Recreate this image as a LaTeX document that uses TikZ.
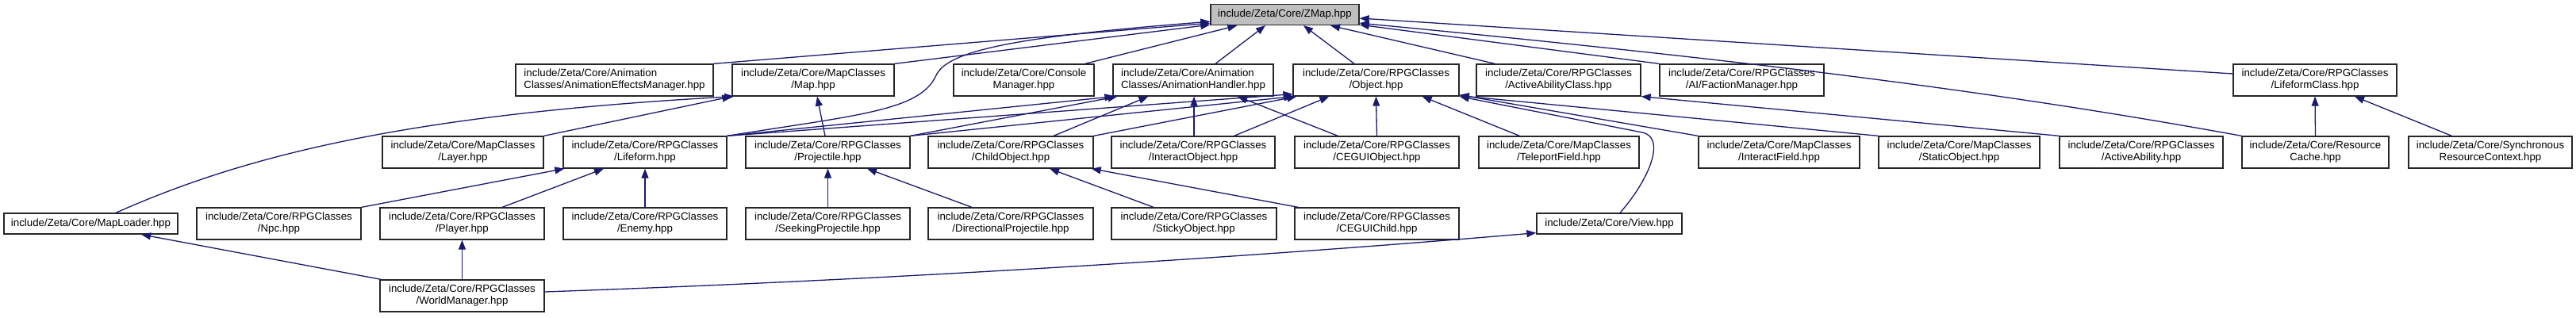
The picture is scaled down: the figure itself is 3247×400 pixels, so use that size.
\documentclass[tikz,border=0pt]{standalone}
\usepackage{fontspec}
\setmainfont{Liberation Sans}
\usetikzlibrary{arrows.meta,calc}
\definecolor{edgeblue}{RGB}{25,25,112}
\definecolor{rootgray}{RGB}{191,191,191}
\begin{document}
\begin{tikzpicture}[x=1bp,y=-1bp,
  box/.style={draw=black!85,line width=1.3bp,fill=white,align=center,inner xsep=4bp,inner ysep=0bp,
    minimum height=40bp,font=\fontsize{13.3bp}{15bp}\selectfont},
  onebox/.style={box,minimum height=26bp},
  edge/.style={draw=edgeblue,line width=1.3bp,-{Triangle[length=12bp,width=9bp]},fill=none}]
\useasboundingbox[fill=white] (0,0) rectangle (3247,400);
% row 1
\node[onebox,fill=rootgray,minimum width=187bp] (zmap) at (1619.5,18.5) {include/Zeta/Core/ZMap.hpp};
% row 2
\node[box,align=left,minimum width=249bp] (aem) at (774.5,101) {include/Zeta/Core/Animation\\Classes/AnimationEffectsManager.hpp};
\node[box,minimum width=204bp] (map) at (1025,101) {include/Zeta/Core/MapClasses\\/Map.hpp};
\node[box,minimum width=177bp] (console) at (1290.5,101) {include/Zeta/Core/Console\\Manager.hpp};
\node[box,align=left,minimum width=202bp] (ah) at (1504,101) {include/Zeta/Core/Animation\\Classes/AnimationHandler.hpp};
\node[box,minimum width=209bp] (object) at (1734.5,101) {include/Zeta/Core/RPGClasses\\/Object.hpp};
\node[box,minimum width=207bp] (aac) at (1964.5,101) {include/Zeta/Core/RPGClasses\\/ActiveAbilityClass.hpp};
\node[box,minimum width=207bp] (faction) at (2195.5,101) {include/Zeta/Core/RPGClasses\\/AI/FactionManager.hpp};
\node[box,minimum width=206bp] (lfclass) at (2918,101) {include/Zeta/Core/RPGClasses\\/LifeformClass.hpp};
% row 3
\node[box,minimum width=203bp] (layer) at (583.5,192) {include/Zeta/Core/MapClasses\\/Layer.hpp};
\node[box,minimum width=206bp] (lifeform) at (813,192) {include/Zeta/Core/RPGClasses\\/Lifeform.hpp};
\node[box,minimum width=207bp] (proj) at (1043.5,192) {include/Zeta/Core/RPGClasses\\/Projectile.hpp};
\node[box,minimum width=208bp] (child) at (1274,192) {include/Zeta/Core/RPGClasses\\/ChildObject.hpp};
\node[box,minimum width=206bp] (iobj) at (1504,192) {include/Zeta/Core/RPGClasses\\/InteractObject.hpp};
\node[box,minimum width=207bp] (ceguiobj) at (1735.5,192) {include/Zeta/Core/RPGClasses\\/CEGUIObject.hpp};
\node[box,minimum width=202bp] (tport) at (1965,192) {include/Zeta/Core/MapClasses\\/TeleportField.hpp};
\node[box,minimum width=203bp] (ifield) at (2242.5,192) {include/Zeta/Core/MapClasses\\/InteractField.hpp};
\node[box,minimum width=203bp] (staticobj) at (2469.5,192) {include/Zeta/Core/MapClasses\\/StaticObject.hpp};
\node[box,minimum width=206bp] (aability) at (2699,192) {include/Zeta/Core/RPGClasses\\/ActiveAbility.hpp};
\node[box,minimum width=185bp] (rcache) at (2918.5,192) {include/Zeta/Core/Resource\\Cache.hpp};
\node[box,minimum width=206bp] (src) at (3139,192) {include/Zeta/Core/Synchronous\\ResourceContext.hpp};
% row 4
\node[onebox,minimum width=219bp] (maploader) at (114.5,282) {include/Zeta/Core/MapLoader.hpp};
\node[box,minimum width=207bp] (npc) at (351.5,282) {include/Zeta/Core/RPGClasses\\/Npc.hpp};
\node[box,minimum width=207bp] (player) at (582.5,282) {include/Zeta/Core/RPGClasses\\/Player.hpp};
\node[box,minimum width=206bp] (enemy) at (813,282) {include/Zeta/Core/RPGClasses\\/Enemy.hpp};
\node[box,minimum width=207bp] (seek) at (1043.5,282) {include/Zeta/Core/RPGClasses\\/SeekingProjectile.hpp};
\node[box,minimum width=208bp] (dirproj) at (1274,282) {include/Zeta/Core/RPGClasses\\/DirectionalProjectile.hpp};
\node[box,minimum width=208bp] (sticky) at (1505,282) {include/Zeta/Core/RPGClasses\\/StickyObject.hpp};
\node[box,minimum width=207bp] (ceguichild) at (1735.5,282) {include/Zeta/Core/RPGClasses\\/CEGUIChild.hpp};
\node[onebox,minimum width=183bp] (view) at (2028.5,282) {include/Zeta/Core/View.hpp};
% row 5
\node[box,minimum width=207bp] (world) at (582.5,373) {include/Zeta/Core/RPGClasses\\/WorldManager.hpp};

% edges to ZMap
\draw[edge] (aem.north east) -- ($(zmap.south west)+(0,-3)$);
\draw[edge] (map.north east) -- ($(zmap.south west)+(0,-1)$);
\draw[edge] (lifeform.north east) .. controls (1080,145) and (1160,140) .. (1180,95)
   .. controls (1195,61) and (1300,45) .. ($(zmap.south west)+(0,-5)$);
\draw[edge] ($(console.north east)+(-12,0)$) -- ($(zmap.south west)+(34,0)$);
\draw[edge] ($(ah.north)+(28,0)$) -- ($(zmap.south)+(-24.5,0)$);
\draw[edge] ($(object.north)+(-27.5,0)$) -- ($(zmap.south)+(23.5,0)$);
\draw[edge] ($(aac.north west)+(24,0)$) -- ($(zmap.south)+(57.5,0)$);
\draw[edge] (faction.north west) -- ($(zmap.south east)+(0,-1)$);
\draw[edge] ($(lfclass.west)+(0,-8)$) -- ($(zmap.east)+(0,4.5)$);
\draw[edge] (rcache.north west) .. controls (2527,117) and (2216,77) .. ($(zmap.south east)+(0,-3)$);
% edges to Map
\draw[edge] (layer.north east) -- (map.south west);
\draw[edge] ($(maploader.north)+(31.5,0)$) .. controls (300,200) and (500,145) .. ($(map.south west)+(3,0)$);
\draw[edge] ($(proj.north)+(-3.5,0)$) -- ($(map.south)+(5,0)$);
% edges to AnimationHandler
\draw[edge] (lifeform.north east) -- ($(ah.south west)+(2,0)$);
\draw[edge] (proj.north east) -- ($(ah.south west)+(6,0)$);
\draw[edge] ($(child.north)+(54,0)$) -- ($(ah.south west)+(45,0)$);
\draw[edge] ($(iobj.north)+(1,0)$) -- ($(ah.south)+(1,0)$);
\draw[edge] ($(ceguiobj.north west)+(55,0)$) -- ($(ah.south)+(56,0)$);
% edges to Object
\draw[edge] (lifeform.north east) -- ($(object.south west)+(0,-3)$);
\draw[edge] (proj.north east) -- ($(object.south west)+(1,0)$);
\draw[edge] (child.north east) -- ($(object.south west)+(5,0)$);
\draw[edge] ($(iobj.north east)+(-52,0)$) -- ($(object.south west)+(46,0)$);
\draw[edge] (ceguiobj.north) -- (object.south);
\draw[edge] ($(tport.north west)+(52,0)$) -- ($(object.south east)+(-47,0)$);
\draw[edge] (ifield.north west) -- ($(object.south east)+(0,-2)$);
\draw[edge] (staticobj.north west) -- ($(object.south east)+(0,-1)$);
\draw[edge] ($(view.north)+(13.5,0)$) .. controls (2080,225) and (2100,173) .. (2070,167) -- (object.south east);
% other edges
\draw[edge] (aability.north west) -- (aac.south east);
\draw[edge] (rcache.north) -- (lfclass.south);
\draw[edge] ($(src.north west)+(55,0)$) -- ($(lfclass.south)+(50,0)$);
\draw[edge] (npc.north east) -- ($(lifeform.south west)+(2,0)$);
\draw[edge] ($(player.north)+(50.5,0)$) -- ($(lifeform.south)+(-52,0)$);
\draw[edge] (enemy.north) -- (lifeform.south);
\draw[edge] (seek.north) -- (proj.south);
\draw[edge] ($(dirproj.north)+(-49,0)$) -- ($(proj.south)+(49.5,0)$);
\draw[edge] ($(sticky.north)+(-51,0)$) -- ($(child.south)+(49,0)$);
\draw[edge] ($(ceguichild.north west)+(5,0)$) -- ($(child.south east)+(-3,0)$);
\draw[edge] (world.north) -- (player.south);
\draw[edge] ($(world.north west)+(2,0)$) -- ($(maploader.south)+(63.5,0)$);
\draw[edge] ($(world.east)+(0,-5)$) .. controls (1200,350) and (1650,318) .. ($(view.south west)+(0,-2)$);
\end{tikzpicture}
\end{document}
